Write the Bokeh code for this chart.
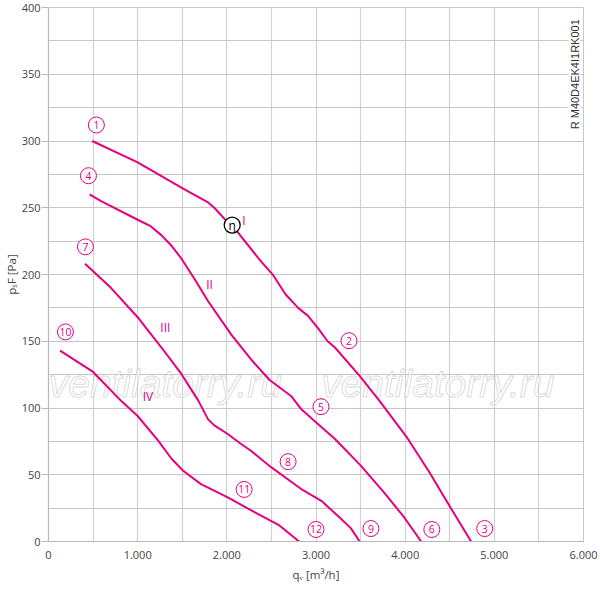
import math
from bokeh.plotting import figure
from bokeh.models import FixedTicker, Label, ColumnDataSource
from bokeh.core.properties import value
from bokeh.embed import file_html
from bokeh.resources import INLINE

# ---- data ----
q_I = [490, 1000, 1520, 1790, 1860, 2010, 2070, 2380, 2520, 2660, 2800, 2910, 3020, 3130, 3210, 3490, 3710, 4030, 4270, 4530, 4740]
p_I = [300, 284, 264, 254, 250, 239, 236, 210, 199.5, 185, 175, 169, 160, 150, 145.5, 124, 105.5, 77, 52, 23, 0]

q_II = [460, 590, 1000, 1150, 1265, 1380, 1490, 1640, 1790, 2050, 2290, 2480, 2720, 2830, 2980, 3210, 3500, 3760, 3990, 4180]
p_II = [260, 255, 241, 236, 229.5, 221.5, 212, 196.5, 180, 155, 135, 121, 109, 99.5, 90.5, 77, 57, 37, 18, 0]

q_III = [410, 700, 1000, 1265, 1490, 1680, 1790, 1860, 2010, 2160, 2270, 2500, 2830, 3060, 3280, 3390, 3490]
p_III = [208, 190, 168, 145.5, 125.5, 105.5, 91.5, 87, 80.5, 73, 68, 55.5, 39.5, 30.5, 17, 10, 0]

q_IV = [130, 500, 820, 1000, 1230, 1380, 1510, 1710, 2010, 2270, 2590, 2810]
p_IV = [143, 127, 105, 94, 75.5, 62, 53, 43, 33, 23.5, 12, 0]

point_labels = ["1", "2", "3", "4", "5", "6", "7", "8", "9", "10", "11", "12"]
point_q = [537, 3370, 4892, 448, 3056, 4299, 414, 2687, 3616, 190, 2194, 3000]
point_p = [312, 150.4, 9.7, 274, 101, 9, 220.7, 59.8, 9.7, 157, 39, 9]

curve_names = ["I", "II", "III", "IV"]
curve_name_q = [2191, 1806, 1310, 1116]
curve_name_p = [240.7, 192.3, 160.3, 108.5]

eta_q = [2060]
eta_p = [237]

x_ticks = [0, 1000, 2000, 3000, 4000, 5000, 6000]
x_tick_labels = ["0", "1.000", "2.000", "3.000", "4.000", "5.000", "6.000"]
y_ticks = [0, 50, 100, 150, 200, 250, 300, 350, 400]

MAG = "#e6007e"
FONT = "Open Sans"

p = figure(width=598, height=588, x_range=(0, 6000), y_range=(0, 400),
           output_backend="svg", toolbar_location=None,
           min_border_left=47, min_border_right=15, min_border_top=7, min_border_bottom=47)
p.background_fill_color = "white"
p.outline_line_color = "#c8c8c8"

# grid
p.xgrid.ticker = FixedTicker(ticks=list(range(0, 6001, 500)))
p.ygrid.ticker = FixedTicker(ticks=list(range(0, 401, 25)))
p.xgrid.grid_line_color = "#d2d2d2"
p.ygrid.grid_line_color = "#c6c6c6"
p.xgrid.grid_line_width = 1.2
p.ygrid.grid_line_width = 1.2

# axes
p.xaxis.ticker = FixedTicker(ticks=x_ticks)
p.xaxis.major_label_overrides = {t: l for t, l in zip(x_ticks, x_tick_labels)}
p.yaxis.ticker = FixedTicker(ticks=y_ticks)
for ax in (p.xaxis, p.yaxis):
    ax.axis_line_color = "#b8b8b8"
    ax.axis_line_width = 1.2
    ax.minor_tick_line_color = None
    ax.major_label_text_font = FONT
    ax.major_label_text_font_size = "11px"
    ax.major_label_text_color = "#444444"
    ax.axis_label_text_font = FONT
    ax.axis_label_text_font_size = "11.5px"
    ax.axis_label_text_font_style = "normal"
    ax.axis_label_text_color = "#444444"
p.xaxis.major_tick_line_color = None
p.xaxis.major_tick_out = 0
p.xaxis.major_tick_in = 0
p.xaxis.major_label_standoff = 9
p.xaxis.axis_label = "qᵥ [m³/h]"
p.xaxis.axis_label_standoff = 5
p.yaxis.major_tick_line_color = "#b8b8b8"
p.yaxis.major_tick_out = 7
p.yaxis.major_tick_in = 0
p.yaxis.major_label_standoff = 1
p.yaxis.axis_label = "pₛF [Pa]"
p.yaxis.axis_label_standoff = 0

# watermark
wm = ColumnDataSource(dict(x=[1310, 4366], y=[118, 118], t=["ventilatorry.ru", "ventilatorry.ru"]))
try:
    p.text(x="x", y="y", text="t", source=wm, text_font=value("Liberation Sans"),
           text_font_style="italic", text_font_size="39px", text_align="center",
           text_baseline="alphabetic", text_color="white", text_alpha=0.6,
           text_outline_color="#c4c4c4")
except Exception:
    p.text(x="x", y="y", text="t", source=wm, text_font=value("Liberation Sans"),
           text_font_style="italic", text_font_size="39px", text_align="center",
           text_baseline="alphabetic", text_color="#dadada")

# curves
for qs, ps in ((q_I, p_I), (q_II, p_II), (q_III, p_III), (q_IV, p_IV)):
    p.line(qs, ps, line_color=MAG, line_width=2)

# numbered markers
src = ColumnDataSource(dict(x=point_q, y=point_p, t=point_labels))
p.scatter(x="x", y="y", source=src, marker="circle", size=16, fill_color="white",
          line_color=MAG, line_width=1)
p.text(x="x", y="y", text="t", source=src, text_font=value(FONT), text_font_size="10.5px",
       text_align="center", text_baseline="middle", text_color=MAG)

# curve names
cn = ColumnDataSource(dict(x=curve_name_q, y=curve_name_p, t=curve_names))
p.text(x="x", y="y", text="t", source=cn, text_font=value(FONT), text_font_size="12px",
       text_align="center", text_baseline="middle", text_color=MAG)

# efficiency marker
p.scatter(eta_q, eta_p, marker="circle", size=16, fill_color="white",
          line_color="black", line_width=1.3)
p.text(eta_q, eta_p, text=["η"], text_font=value(FONT), text_font_size="12px",
       text_align="center", text_baseline="middle", text_color="black")

# type code on the right
p.add_layout(Label(x=5900, y=350, text="R M40D4EK4I1RK001", angle=math.pi / 2,
                   text_font="Liberation Sans", text_font_size="11px", text_color="#333333",
                   text_align="center", text_baseline="middle",
                   background_fill_color="white"))

open("out.html", "w").write(file_html(p, INLINE))
